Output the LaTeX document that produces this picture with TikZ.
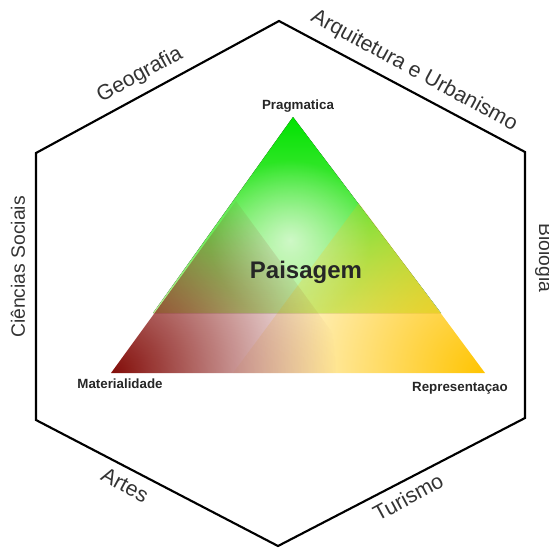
\documentclass[tikz,border=0pt]{standalone}
\usepackage{fontspec}
\setmainfont{Liberation Sans}
\usetikzlibrary{fadings}
\definecolor{verde}{RGB}{0,226,0}
\definecolor{verdeclaro}{RGB}{185,242,150}
\definecolor{vermelho}{RGB}{130,12,8}
\definecolor{ouro}{RGB}{255,196,0}
\tikzfading[name=glow, inner color=transparent!35, outer color=transparent!100]
\tikzfading[name=cornerfade, inner color=transparent!0, outer color=transparent!100]
\begin{document}
\begin{tikzpicture}[x=0.75pt,y=-0.75pt]
        \tikzstyle{every node}=[inner sep=0pt];
        \tikzstyle{area}=[font=\fontsize{16}{18}\selectfont, text=black!80];
        \tikzstyle{vertex}=[font=\bfseries\fontsize{10}{12}\selectfont, text=black!85];
        \useasboundingbox (0,0) rectangle (549,547);
        %hexagono
        \coordinate (h1) at (279,21);
        \coordinate (h2) at (525,152);
        \coordinate (h3) at (525,418);
        \coordinate (h4) at (278,546);
        \coordinate (h5) at (36,420);
        \coordinate (h6) at (36,153);
        \draw[line width=1.6pt, line join=miter] (h1)--(h2)--(h3)--(h4)--(h5)--(h6)--cycle;
        %triangulo
        \coordinate (t1) at (293,117);
        \coordinate (t2) at (111,373);
        \coordinate (t3) at (485,373);
        %verde em cima
        \fill[top color=verde, bottom color=verdeclaro] (t1)--(153,313)--(441,313)--cycle;
        \begin{scope}
        \clip (t1)--(153,313)--(441,313)--cycle;
        \fill[white, path fading=glow] (290,240) circle (80);
        \end{scope}
        %amarelo e vermelho
        \begin{scope}
        \clip (233,373)--(359,203)--(t3)--cycle;
        \fill[ouro, path fading=cornerfade] (t3) circle (260);
        \end{scope}
        \begin{scope}
        \clip (t2)--(236,201)--(362,373)--cycle;
        \fill[vermelho, path fading=cornerfade] (t2) circle (225);
        \end{scope}
        %textos
        \node (geo) at (140,75) [area, rotate=28.5] {Geografia};
        \node (arq) at (414,71) [area, rotate=-28.5] {Arquitetura e Urbanismo};
        \node (cso) at (18,267) [area, rotate=90, font=\fontsize{14.5}{16}\selectfont] {Ciências Sociais};
        \node (bio) at (544,258) [area, rotate=-90, font=\fontsize{14.5}{16}\selectfont] {Biologia};
        \node (art) at (125,485) [area, rotate=-28.5] {Artes};
        \node (tur) at (408,497) [area, rotate=28.5] {Turismo};
        \node (prag) at (298,106) [vertex] {Pragmatica};
        \node (mat) at (120,384) [vertex] {Materialidade};
        \node (rep) at (460,388) [vertex] {Representaçao};
        \node (pais) at (306,272) [vertex, font=\bfseries\fontsize{18}{20}\selectfont] {Paisagem};
\end{tikzpicture}
\end{document}
